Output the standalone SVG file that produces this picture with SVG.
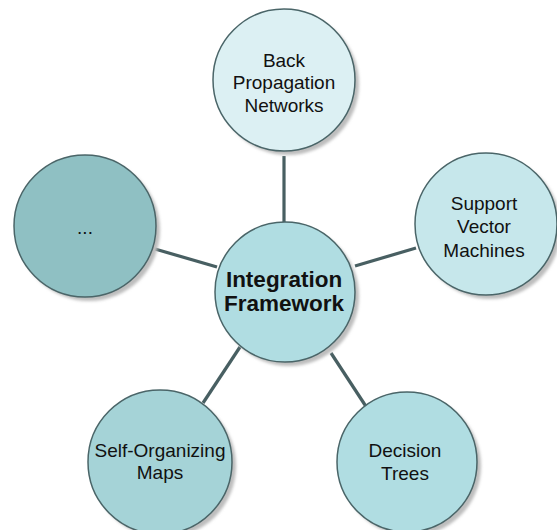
<svg xmlns="http://www.w3.org/2000/svg" width="557" height="530" viewBox="0 0 557 530">
<defs>
<filter id="sh" x="-20%" y="-20%" width="150%" height="150%">
<feGaussianBlur stdDeviation="1.5"/>
</filter>
<style>
.node circle.c{stroke:#4a6568;stroke-width:1.5}
.node circle.s{fill:#bdbdbd;filter:url(#sh)}
.t{font-family:"Liberation Sans",Arial,sans-serif;font-size:19px;fill:#111;text-anchor:middle}
.b{font-weight:bold;font-size:22.5px}
#connectors line{stroke:#485f62;stroke-width:3.2}
</style>
</defs>
<rect width="557" height="530" fill="#fff"/>
<g id="connectors">
<line x1="284" y1="156" x2="284" y2="222"/>
<line x1="155" y1="249" x2="217" y2="267"/>
<line x1="355" y1="266" x2="416" y2="248"/>
<line x1="203" y1="403" x2="240" y2="347"/>
<line x1="331" y1="353" x2="367" y2="408"/>
</g>
<g id="n-back" class="node">
<circle class="s" cx="288" cy="84" r="71"/>
<circle class="c" cx="284" cy="80" r="71" fill="#dcf0f3"/>
<text class="t" x="284" y="67">Back</text>
<text class="t" x="284" y="89">Propagation</text>
<text class="t" x="284" y="112">Networks</text>
</g>
<g id="n-svm" class="node">
<circle class="s" cx="490" cy="228" r="71"/>
<circle class="c" cx="486" cy="224" r="71" fill="#c6e7eb"/>
<text class="t" x="484" y="210">Support</text>
<text class="t" x="484" y="233">Vector</text>
<text class="t" x="484" y="257">Machines</text>
</g>
<g id="n-dots" class="node">
<circle class="s" cx="89" cy="230" r="71"/>
<circle class="c" cx="85" cy="226" r="71" fill="#8fc0c3"/>
<text class="t" x="85" y="234">...</text>
</g>
<g id="n-center" class="node">
<circle class="s" cx="289" cy="296" r="70"/>
<circle class="c" cx="285" cy="292" r="70" fill="#b0dde2"/>
<text class="t b" x="284" y="287">Integration</text>
<text class="t b" x="284" y="311">Framework</text>
</g>
<g id="n-som" class="node">
<circle class="s" cx="164" cy="466" r="72"/>
<circle class="c" cx="160" cy="462" r="72" fill="#a5d3d7"/>
<text class="t" x="160" y="457">Self-Organizing</text>
<text class="t" x="160" y="479">Maps</text>
</g>
<g id="n-dt" class="node">
<circle class="s" cx="411" cy="466" r="70"/>
<circle class="c" cx="407" cy="462" r="70" fill="#b0dde2"/>
<text class="t" x="405" y="457">Decision</text>
<text class="t" x="405" y="480">Trees</text>
</g>
</svg>
